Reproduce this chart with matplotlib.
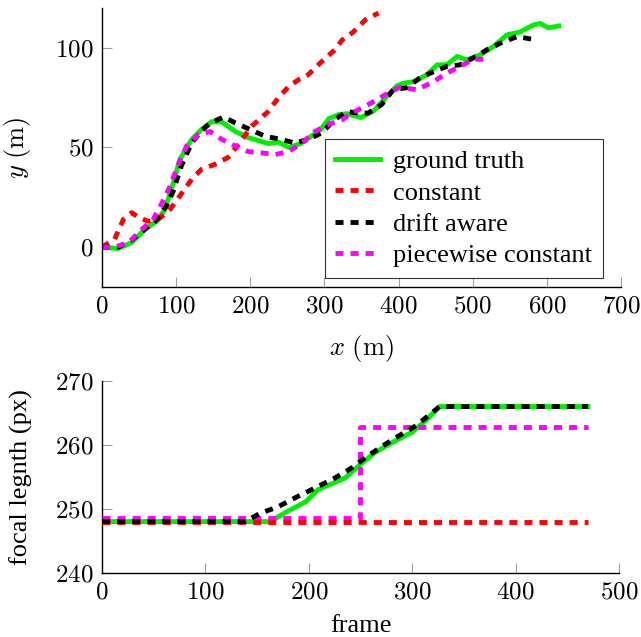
import matplotlib
matplotlib.use('Agg')
import matplotlib.pyplot as plt
from matplotlib.ticker import FuncFormatter

plt.rcParams['font.family'] = ['Liberation Serif', 'DejaVu Serif']
plt.rcParams['mathtext.fontset'] = 'cm'

# trajectory (top)
gt_x = [0, 22, 40, 58, 74, 85, 96, 105, 121, 134, 148, 162, 180, 197, 224, 238, 252, 268, 295, 306,
        319, 331, 349, 367, 385, 398, 407, 420, 438, 452, 465, 479, 492, 510, 528, 546, 564, 582, 591, 602, 616]
gt_y = [0, -0.7, 2.3, 9, 13, 19, 32, 44, 54, 59, 63, 62.7, 58, 55, 52, 52.7, 50, 52, 59, 64.5,
        66.5, 67, 65, 68.5, 76, 81, 82.3, 83, 86.5, 91.5, 91.5, 95.7, 94, 96.5, 100.7, 106.5, 108, 111.5, 112.3, 110, 111]

const_x = [0, 17, 29, 40, 49, 62, 76, 92, 105, 121, 134, 152, 170, 184, 202, 224, 238, 252, 265, 278,
           296, 314, 324, 339, 355, 365, 373]
const_y = [0, 4, 14, 17.3, 15, 13, 14, 19, 25.7, 34, 39, 41.5, 45, 51.5, 60.7, 68, 75, 80.7, 84, 86.5,
           93, 99, 104, 108, 114, 116, 117.5]

drift_x = [0, 22, 40, 58, 72, 87, 96, 107, 121, 134, 146, 164, 180, 200, 220, 242, 260, 278, 296, 314,
           330, 346, 359, 377, 393, 411, 429, 447, 465, 483, 501, 519, 537, 560, 585]
drift_y = [0, 0, 3.5, 9, 13, 20.7, 28, 40.7, 52.3, 58.3, 62.3, 65.3, 62.3, 59, 55.7, 54, 52.3, 54, 57.3, 64,
           68, 67.3, 67.3, 71.5, 79, 80, 85, 88, 90.7, 91.5, 95, 99, 102.3, 105.7, 104]

piece_x = [0, 17, 36, 54, 69, 80, 92, 101, 114, 130, 146, 162, 180, 197, 215, 234, 252, 270, 287, 305,
           324, 337, 355, 371, 389, 402, 425, 447, 465, 483, 501, 520]
piece_y = [0, 0, 2.3, 9, 14, 21.5, 30.7, 39.8, 50.7, 56.5, 58, 54, 50.7, 48, 47.3, 46.5, 48, 52.3, 58, 61.5,
           64, 67.3, 70.7, 74, 78, 80.3, 79, 83, 87.3, 90.7, 94.3, 94.3]

# focal length (bottom)
gt_frame = [0, 163, 176, 197, 209, 235, 248, 264, 281, 300, 313, 326.5, 470]
gt_focal = [248, 248, 249.3, 251.1, 253, 254.8, 256.7, 258.8, 260.4, 262, 263.8, 266, 266]
drift_frame = [0, 138.5, 153, 170, 189, 209, 225, 241.5, 254.6, 271, 287, 303.6, 326.5, 470]
drift_focal = [248, 248, 249.3, 250.3, 251.9, 253.5, 254.8, 256.4, 258, 259.8, 261.4, 263, 266, 266]
piece_frame = [0, 250, 250, 470]
piece_focal = [248.5, 248.5, 262.75, 262.75]
const_frame = [0, 470]
const_focal = [248, 248]

labels = ['ground truth', 'constant', 'drift aware', 'piecewise constant']
colors = ['#00ee00', 'red', 'black', 'magenta']

lw = 3.5
dash = (0, (1.65, 1.45))

fig = plt.figure(figsize=(6.41, 6.37), dpi=100)
ax1 = fig.add_axes([0.1591, 0.5495, 0.8097, 0.4379])
ax2 = fig.add_axes([0.1591, 0.1009, 0.8066, 0.3010])

ax1.plot(gt_x, gt_y, color=colors[0], lw=lw, label=labels[0])
ax1.plot(const_x, const_y, color=colors[1], lw=lw, ls=dash, dash_capstyle='butt', label=labels[1])
ax1.plot(drift_x, drift_y, color=colors[2], lw=lw, ls=dash, dash_capstyle='butt', label=labels[2])
ax1.plot(piece_x, piece_y, color=colors[3], lw=lw, ls=dash, dash_capstyle='butt', label=labels[3])

ax2.plot(gt_frame, gt_focal, color=colors[0], lw=lw, zorder=2)
ax2.plot(piece_frame, piece_focal, color=colors[3], lw=lw, ls=dash, dash_capstyle='butt', zorder=3)
ax2.plot(const_frame, const_focal, color=colors[1], lw=lw, ls=dash, dash_capstyle='butt', zorder=4)
ax2.plot(drift_frame, drift_focal, color=colors[2], lw=lw, ls=dash, dash_capstyle='butt', zorder=5)

ax1.set_xlim(0, 700)
ax1.set_ylim(-20, 120)
ax1.set_xticks(range(0, 701, 100))
ax1.set_yticks([0, 50, 100])
ax2.set_xlim(0, 500)
ax2.set_ylim(240, 270)
ax2.set_xticks(range(0, 501, 100))
ax2.set_yticks([240, 250, 260, 270])

fmt = FuncFormatter(lambda v, p: f'${v:g}$')
for ax in (ax1, ax2):
    for s in ('top', 'right'):
        ax.spines[s].set_visible(False)
    for s in ('left', 'bottom'):
        ax.spines[s].set_linewidth(1.0)
    ax.tick_params(direction='in', length=7, width=0.8, color='#a0a0a0',
                   labelsize=18, pad=6)
    ax.xaxis.set_major_formatter(fmt)
    ax.yaxis.set_major_formatter(fmt)

ax1.set_xlabel(r'$x\ \mathrm{(m)}$', fontsize=19)
ax1.set_ylabel(r'$y\ \mathrm{(m)}$', fontsize=19)
ax1.xaxis.set_label_coords(0.5, -0.165)
ax1.yaxis.set_label_coords(-0.133, 0.5)

ax2.set_xlabel('frame', fontsize=19)
ax2.set_ylabel('focal legnth (px)', fontsize=19)
ax2.xaxis.set_label_coords(0.5, -0.22)
ax2.yaxis.set_label_coords(-0.1335, 0.5)

leg = ax1.legend(loc='lower right', bbox_to_anchor=(0.965, 0.032), fontsize=19,
                 frameon=True, fancybox=False, framealpha=1, edgecolor='#333333',
                 handlelength=1.7, handletextpad=0.5, labelspacing=0.3,
                 borderpad=0.4, borderaxespad=0)
leg.get_frame().set_linewidth(0.8)

fig.savefig('out.png', dpi=100)
